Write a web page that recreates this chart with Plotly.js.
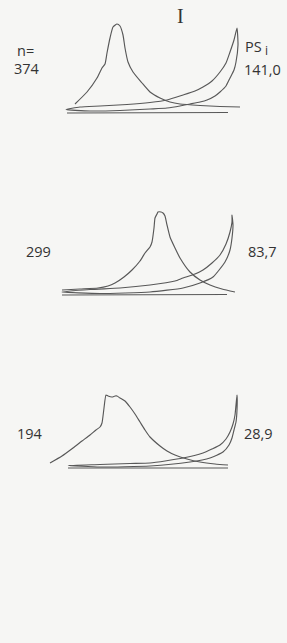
<!DOCTYPE html>
<html>
<head>
<meta charset="utf-8">
<script src="https://cdn.plot.ly/plotly-3.0.1.min.js"></script>
<style>
  html, body { margin: 0; padding: 0; background: #f6f6f4; }
  #chart { width: 287px; height: 643px; }
</style>
</head>
<body>
<div id="chart"></div>
<script>
// ---------- data (x position, height above baseline) ----------
const panelN   = ["374", "299", "194"];
const panelPS  = ["141,0", "83,7", "28,9"];

// Panel 1
const peak1X  = [75, 87, 97, 102, 105, 107, 110, 113, 117, 120, 123, 125, 128, 133, 142, 150, 160, 170, 180, 200, 220, 240];
const peak1Y  = [9, 21, 35, 45, 49, 60, 75, 86, 89, 87, 78, 65, 51, 41, 30, 21, 15, 11, 9, 7.5, 6.5, 6];
const loop1X  = [237, 234, 230, 226, 220, 212, 203, 195, 183, 167, 150, 127, 100, 80, 66, 90, 120, 150, 167, 180, 190, 200, 207, 215, 220, 226, 230, 234, 236, 238, 237];
const loop1Y  = [85, 73, 61, 50, 41, 32, 26, 22, 18, 13, 10.5, 8.5, 7, 6, 3.5, 2, 2.5, 4, 5, 7, 9, 11, 13, 17, 21, 27, 35, 43, 51, 68, 85];
const base1X  = [67, 228];
const base1Y  = [0, 0.5];

// Panel 2
const peak2X  = [62, 80, 98, 108, 115, 124, 132, 140, 145, 150, 152, 154, 155, 157, 158, 161, 163, 165, 167, 170, 175, 180, 190, 200, 210, 222, 235];
const peak2Y  = [5, 6, 7, 9, 12, 18, 25, 34, 42, 48, 53, 67, 77, 81, 83, 83, 82, 79, 70, 58, 47, 37, 23, 15, 10, 6, 3];
const loop2X  = [232, 232, 230, 226, 220, 212, 203, 195, 183, 175, 150, 120, 90, 62, 100, 150, 183, 200, 213, 225, 230, 232, 233, 232];
const loop2Y  = [80, 73, 63, 51, 40, 32, 25, 21, 17, 14, 10, 7, 5.5, 3, 1.5, 3, 7, 12, 18, 33, 45, 57, 70, 80];
const base2X  = [62, 227];
const base2Y  = [0, 0.5];

// Panel 3
const peak3X  = [50, 62, 73, 82, 90, 96, 100, 102, 104, 106, 108, 112, 115, 117, 120, 125, 130, 135, 140, 145, 150, 160, 167, 175, 187, 200, 215, 228];
const peak3Y  = [5, 12, 20, 27, 33, 38, 41, 45, 60, 73, 72, 71, 72, 72, 70, 67, 61, 54, 46, 38, 31, 22, 17, 13, 9, 6, 4, 3];
const loop3X  = [237, 236, 235, 233, 230, 226, 220, 212, 203, 183, 150, 130, 100, 68, 100, 150, 190, 210, 223, 229, 232, 234, 236, 237, 237];
const loop3Y  = [73, 63, 53, 44, 36, 29, 23, 19, 15, 10, 5, 4.5, 3.5, 2.5, 1, 2, 6, 10, 16, 23, 30, 38, 46, 58, 73];
const base3X  = [68, 228];
const base3Y  = [0, 0];

// ---------- layout helpers ----------
const H = 643;
const lineColor = "#585858";
const lineW = 1.15;
function tr(x, y, yaxis) {
  return { x: x, y: y, yaxis: yaxis, xaxis: "x", mode: "lines", type: "scatter",
           line: { color: lineColor, width: lineW, shape: "spline", smoothing: 0.5 },
           hoverinfo: "skip", showlegend: false };
}
function dom(basePx) { // baseline pixel row -> axis domain for range [-10, 95]
  return [(H - (basePx + 10)) / H, (H - (basePx - 95)) / H];
}
const yax = (basePx) => ({ domain: dom(basePx), range: [-10, 95], visible: false, fixedrange: true, anchor: "x" });

const data = [
  tr(peak1X, peak1Y, "y"),  tr(loop1X, loop1Y, "y"),  tr(base1X, base1Y, "y"),
  tr(peak2X, peak2Y, "y2"), tr(loop2X, loop2Y, "y2"), tr(base2X, base2Y, "y2"),
  tr(peak3X, peak3Y, "y3"), tr(loop3X, loop3Y, "y3"), tr(base3X, base3Y, "y3")
];

function ann(text, xPx, yPx, size, family) {
  return { text: text, x: xPx / 287, y: 1 - yPx / H, xref: "paper", yref: "paper",
           showarrow: false, xanchor: "center", yanchor: "middle",
           font: { size: size || 14.5, color: "#333333", family: family || "Open Sans, DejaVu Sans, sans-serif" } };
}

const annotations = [
  ann("I", 180, 16, 20, "Liberation Serif, DejaVu Serif, serif"),
  ann("n=", 25, 50),
  ann(panelN[0], 27, 68),
  ann("PS", 254, 47),
  ann("i", 266, 50, 12),
  ann(panelPS[0], 262, 69),
  ann(panelN[1], 38, 252),
  ann(panelPS[1], 262, 252),
  ann(panelN[2], 30, 433),
  ann(panelPS[2], 258, 433)
];

const layout = {
  width: 287, height: 643,
  margin: { l: 0, r: 0, t: 0, b: 0 },
  paper_bgcolor: "#f6f6f4", plot_bgcolor: "#f6f6f4",
  xaxis: { range: [0, 287], visible: false, fixedrange: true },
  yaxis: yax(113),
  yaxis2: yax(295),
  yaxis3: yax(468),
  annotations: annotations,
  showlegend: false
};

Plotly.newPlot("chart", data, layout, { staticPlot: true, displayModeBar: false });
</script>
</body>
</html>
